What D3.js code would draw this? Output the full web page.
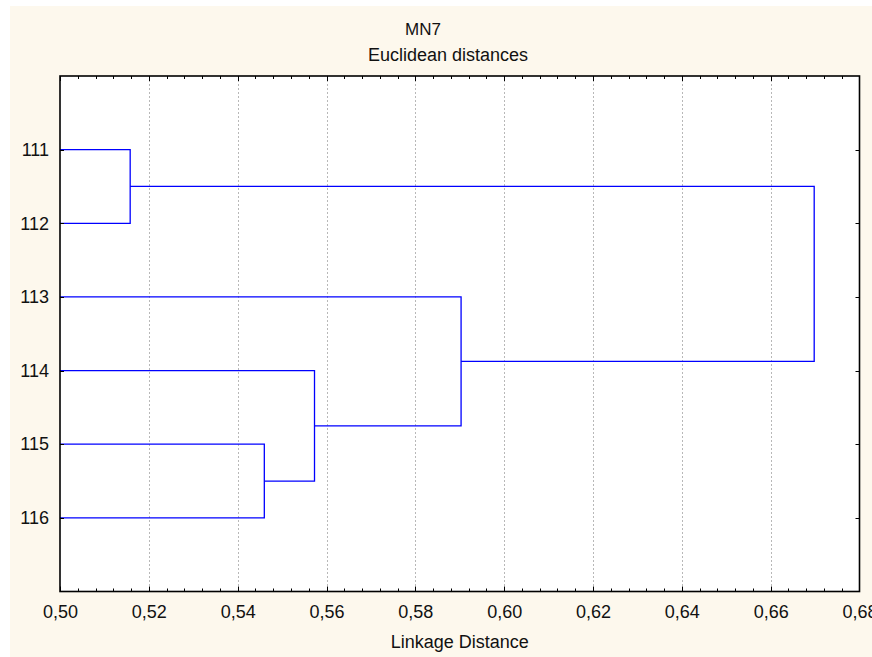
<!DOCTYPE html>
<html>
<head>
<meta charset="utf-8">
<script src="https://cdn.jsdelivr.net/npm/d3@7"></script>
<style>
  html, body { margin: 0; padding: 0; background: #ffffff; }
  svg { display: block; }
  text { font-family: "Liberation Sans", Arial, sans-serif; fill: #111; }
</style>
</head>
<body>
<svg id="chart" width="872" height="657"></svg>
<script>
// ---- data ----
const leaves = ["111", "112", "113", "114", "115", "116"];
// merges: [childA, childB, linkage distance]; children are leaf labels or "c<index>" of earlier merges
const mergeA = ["111", "115", "114", "113", "c0"];
const mergeB = ["112", "116", "c1", "c2", "c3"];
const mergeHeight = [0.5158, 0.5460, 0.5573, 0.5903, 0.6698];
const xTicks = [0.50, 0.52, 0.54, 0.56, 0.58, 0.60, 0.62, 0.64, 0.66, 0.68];
const titleText = "MN7";
const subtitleText = "Euclidean distances";
const xLabelText = "Linkage Distance";

(function () {
// ---- layout ----
const svg = d3.select("#chart");
const pL = 60, pR = 859.5, pT = 76, pB = 591.5;

svg.append("rect").attr("x", 10).attr("y", 6).attr("width", 862).attr("height", 651).attr("fill", "#fdf8ed");
svg.append("rect").attr("x", pL).attr("y", pT).attr("width", pR - pL).attr("height", pB - pT).attr("fill", "#ffffff");

const x = d3.scaleLinear().domain([0.50, 0.68]).range([pL, pR]);
const y = d3.scaleLinear().domain([0, leaves.length + 1]).range([pT, pB]);

// gridlines
svg.append("g").selectAll("line").data(xTicks.slice(1, -1)).join("line")
  .attr("x1", d => Math.round(x(d)) + 0.5).attr("x2", d => Math.round(x(d)) + 0.5)
  .attr("y1", pT).attr("y2", pB)
  .attr("stroke", "#b8b8b8").attr("stroke-width", 1).attr("stroke-dasharray", "2,2");

// dendrogram
const pos = {};
leaves.forEach((l, i) => { pos[l] = { y: i + 1, h: 0.50 }; });
const g = svg.append("g");
mergeHeight.forEach((h, i) => {
  const a = pos[mergeA[i]], b = pos[mergeB[i]];
  const p = d3.path();
  p.moveTo(x(a.h), y(a.y));
  p.lineTo(x(h), y(a.y));
  p.lineTo(x(h), y(b.y));
  p.lineTo(x(b.h), y(b.y));
  g.append("path").attr("d", p.toString()).attr("fill", "none")
    .attr("stroke", "#0000ff").attr("stroke-width", 1.3);
  pos["c" + i] = { y: (a.y + b.y) / 2, h: h };
});

// axes
const minorTicks = d3.range(0, 46).map(i => 0.50 + i * 0.004).filter(v => v < 0.6799);
const axisBottom = d3.axisBottom(x).tickValues(xTicks).tickSize(0).tickPadding(14)
  .tickFormat(d => d3.format(".2f")(d).replace(".", ","));
const gb = svg.append("g").attr("transform", `translate(0,${pB})`).call(axisBottom);
gb.select(".domain").remove();
gb.selectAll("text").attr("font-size", 18).attr("font-family", "Liberation Sans, Arial, sans-serif").attr("fill", "#111");

// tick marks inward (bottom and top)
const tickG = svg.append("g").attr("stroke", "#000").attr("stroke-width", 1);
minorTicks.forEach(v => {
  const isMajor = Math.abs(Math.round(v / 0.02) * 0.02 - v) < 1e-6;
  const len = isMajor ? 5 : 3;
  const xx = Math.round(x(v)) + 0.5;
  tickG.append("line").attr("x1", xx).attr("x2", xx).attr("y1", pB).attr("y2", pB - len);
  tickG.append("line").attr("x1", xx).attr("x2", xx).attr("y1", pT).attr("y2", pT + len);
});
leaves.forEach((l, i) => {
  const yy = Math.round(y(i + 1)) + 0.5;
  tickG.append("line").attr("x1", pL).attr("x2", pL + 4).attr("y1", yy).attr("y2", yy);
  tickG.append("line").attr("x1", pR).attr("x2", pR - 4).attr("y1", yy).attr("y2", yy);
});

// y labels
const axisLeft = d3.axisLeft(y).tickValues(d3.range(1, leaves.length + 1)).tickSize(0).tickPadding(11)
  .tickFormat(d => leaves[d - 1]);
const gl = svg.append("g").attr("transform", `translate(${pL},0)`).call(axisLeft);
gl.select(".domain").remove();
gl.selectAll("text").attr("font-size", 18).attr("font-family", "Liberation Sans, Arial, sans-serif").attr("fill", "#111");

// frame
svg.append("rect").attr("x", pL).attr("y", pT).attr("width", pR - pL).attr("height", pB - pT)
  .attr("fill", "none").attr("stroke", "#000").attr("stroke-width", 1.6);

// titles
svg.append("text").attr("x", 423).attr("y", 35).attr("text-anchor", "middle").attr("font-size", 17).text(titleText);
svg.append("text").attr("x", 448).attr("y", 61).attr("text-anchor", "middle").attr("font-size", 18).text(subtitleText);
svg.append("text").attr("x", (pL + pR) / 2).attr("y", 648).attr("text-anchor", "middle").attr("font-size", 18).text(xLabelText);
})();
</script>
</body>
</html>
